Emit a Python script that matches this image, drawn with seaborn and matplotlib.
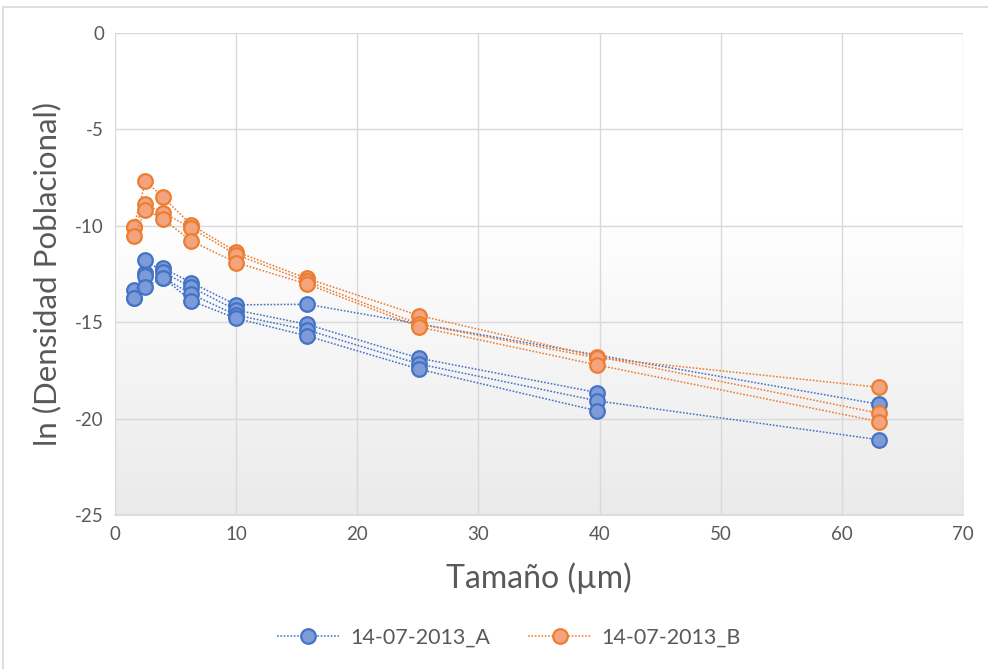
import numpy as np
import pandas as pd
import matplotlib
matplotlib.use("Agg")
import matplotlib.pyplot as plt
from matplotlib.lines import Line2D
from matplotlib.patches import Rectangle
import seaborn as sns

# Particle size classes (µm), logarithmic class centres
sizes = [1.58, 2.51, 3.98, 6.31, 10.0, 15.85, 25.12, 39.81, 63.10]

# ln(population density) per replicate; NaN = no count in that class
a_rep1 = [-13.33, -12.46, -12.20, -12.95, -14.10, -14.07, np.nan, np.nan, -19.26]
a_rep2 = [-13.76, -11.77, -12.41, -13.19, -14.37, -15.11, -16.87, -18.65, np.nan]
a_rep3 = [np.nan, -12.60, -12.69, -13.55, -14.63, -15.40, -17.17, -19.08, -21.10]
a_rep4 = [-13.76, -13.16, -12.69, -13.90, -14.80, -15.71, -17.44, -19.60, np.nan]

b_rep1 = [-10.05, -7.68, -8.52, -9.96, -11.34, -12.73, -14.66, -16.78, -19.73]
b_rep2 = [-10.05, -8.89, -9.32, -10.13, -11.50, -12.88, -15.10, -16.85, -18.38]
b_rep3 = [-10.53, -9.18, -9.66, -10.79, -11.91, -13.02, -15.25, -17.22, -20.16]

series_names = ["14-07-2013_A", "14-07-2013_B"]
x_ticks = [0, 10, 20, 30, 40, 50, 60, 70]
y_ticks = [-25, -20, -15, -10, -5, 0]

rows = []
for name, reps in ((series_names[0], [a_rep1, a_rep2, a_rep3, a_rep4]),
                   (series_names[1], [b_rep1, b_rep2, b_rep3])):
    for i, rep in enumerate(reps):
        for s, v in zip(sizes, rep):
            rows.append({"serie": name, "rep": f"{name}_{i}", "size": s, "lnd": v})
df = pd.DataFrame(rows).dropna()

line_col = {series_names[0]: "#4472C4", series_names[1]: "#ED7D31"}
face_col = {series_names[0]: "#7D9BD9", series_names[1]: "#F4A47C"}

sns.set_theme(style="white")
plt.rcParams["font.family"] = ["Lato", "DejaVu Sans"]
plt.rcParams["axes.unicode_minus"] = False

fig = plt.figure(figsize=(9.88, 6.69), dpi=100)
ax = fig.add_axes([115 / 988, 1 - 515 / 669, (963 - 115) / 988, (515 - 33) / 669])

# soft vertical gradient in the plot area: white on top, light grey at the bottom
grad = np.linspace(0, 1, 256).reshape(-1, 1)
cmap = matplotlib.colors.LinearSegmentedColormap.from_list(
    "bg", [(0.0, "#ffffff"), (0.38, "#ffffff"), (1.0, "#eaeaea")])
ax.imshow(grad, extent=[0, 70, -25, 0], origin="upper", cmap=cmap,
          aspect="auto", zorder=0)

dots = (0, (1.1, 1.1))
sns.lineplot(data=df, x="size", y="lnd", hue="serie", units="rep",
             estimator=None, sort=False, palette=line_col, marker="o",
             markersize=10.5, linewidth=1.1, linestyle=dots, legend=False,
             ax=ax, zorder=3)

for ln in ax.lines:
    c = matplotlib.colors.to_hex(ln.get_color()).upper()
    name = series_names[0] if c == line_col[series_names[0]] else series_names[1]
    ln.set_markerfacecolor(face_col[name])
    ln.set_markeredgecolor(line_col[name])
    ln.set_markeredgewidth(1.6)

ax.set_xlim(0, 70)
ax.set_ylim(-25, 0)
ax.set_xticks(x_ticks)
ax.set_yticks(y_ticks)
ax.grid(True, color="#d9d9d9", linewidth=1.0, zorder=1)
ax.set_axisbelow(True)
for side in ("top", "right", "left"):
    ax.spines[side].set_visible(False)
ax.spines["bottom"].set_color("#d9d9d9")
ax.tick_params(axis="both", length=0, labelsize=13.5, labelcolor="#595959", pad=8)

ax.set_xlabel("Tamaño (µm)", fontsize=23, color="#595959", labelpad=14)
ax.set_ylabel("ln (Densidad Poblacional)", fontsize=22.5, color="#595959", labelpad=10)

handles = [Line2D([], [], color=line_col[n], linestyle=dots, linewidth=1.1,
                  marker="o", markersize=10.5, markerfacecolor=face_col[n],
                  markeredgecolor=line_col[n], markeredgewidth=1.6)
           for n in series_names]
fig.legend(handles, series_names, loc="center", bbox_to_anchor=(0.515, 0.047),
           ncol=2, frameon=False, fontsize=15.5, handlelength=2.9,
           handletextpad=0.5, columnspacing=1.8, labelcolor="#595959")

fig.patches.append(Rectangle((3 / 988, -0.1), 1.2, 1 - 7 / 669 + 0.1,
                             transform=fig.transFigure, fill=False,
                             edgecolor="#d9d9d9", linewidth=1.2))

fig.savefig("out.png", dpi=100, facecolor="white")
